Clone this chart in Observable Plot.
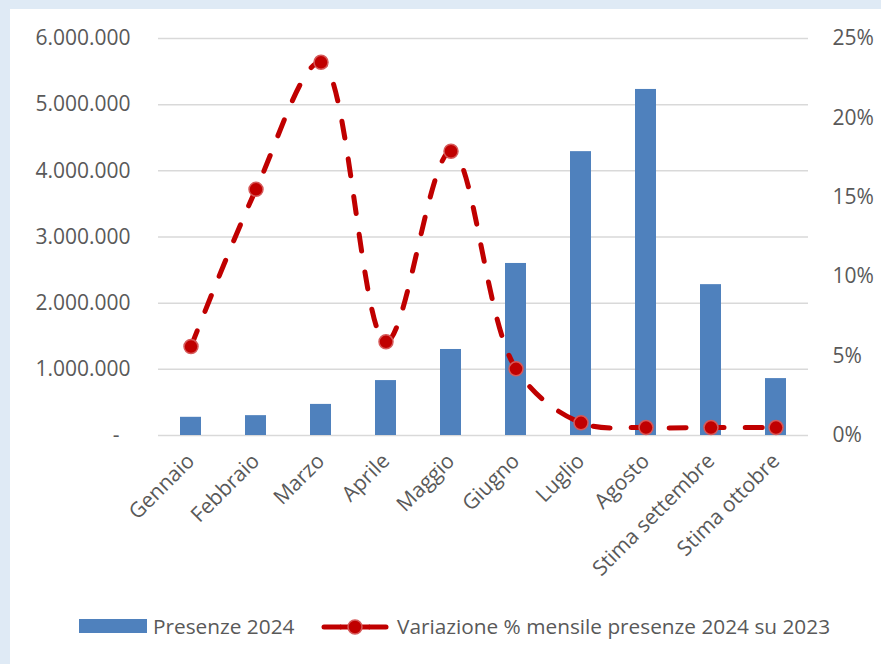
<!DOCTYPE html>
<html>
<head>
<meta charset="utf-8">
<script src="https://cdn.jsdelivr.net/npm/d3@7"></script>
<script src="https://cdn.jsdelivr.net/npm/@observablehq/plot@0.6"></script>
<style>
  html, body { margin: 0; padding: 0; width: 881px; height: 664px; overflow: hidden; background: #dfeaf5; font-family: "Open Sans", sans-serif; }
  #panel { position: absolute; left: 10px; top: 9px; width: 871px; height: 655px; background: #ffffff; }
  #chart { position: absolute; left: 0; top: 0; }
  #legend { position: absolute; left: 0; top: 0; width: 881px; height: 664px; pointer-events: none; }
  .lg-text { position: absolute; top: 612px; font-size: 20.8px; line-height: 28px; color: #595959; white-space: nowrap; }
</style>
</head>
<body>
<div id="panel"></div>
<div id="chart"></div>
<div id="legend">
  <div style="position:absolute;left:79px;top:619px;width:68px;height:14px;background:#4f81bd;"></div>
  <div class="lg-text" style="left:153px;">Presenze 2024</div>
  <svg style="position:absolute;left:318px;top:612px;" width="76" height="30">
    <line x1="6" y1="15" x2="22" y2="15" stroke="#c00000" stroke-width="5" stroke-linecap="round"/>
    <line x1="52" y1="15" x2="68" y2="15" stroke="#c00000" stroke-width="5" stroke-linecap="round"/>
    <line x1="22" y1="15" x2="52" y2="15" stroke="#c00000" stroke-width="5"/>
    <circle cx="37" cy="15" r="7" fill="#c00000" stroke="#d65a5a" stroke-width="1.5"/>
  </svg>
  <div class="lg-text" style="left:397px;">Variazione % mensile presenze 2024 su 2023</div>
</div>
<script>
const months = ["Gennaio", "Febbraio", "Marzo", "Aprile", "Maggio", "Giugno", "Luglio", "Agosto", "Stima settembre", "Stima ottobre"];
const presenze2024 = [275000, 300000, 470000, 830000, 1300000, 2600000, 4290000, 5230000, 2280000, 860000];
const variazionePct = [5.6, 15.5, 23.5, 5.9, 17.9, 4.2, 0.8, 0.5, 0.5, 0.5];
const leftTicks = [0, 1000000, 2000000, 3000000, 4000000, 5000000, 6000000];
const rightTicks = [0, 5, 10, 15, 20, 25];

const Y_MAX = 6000000, P_MAX = 25;
const toY = p => p / P_MAX * Y_MAX;

const data = months.map((m, i) => ({ mese: m, presenze: presenze2024[i], variazione: variazionePct[i] }));
const fmtIt = d => d === 0 ? "-\u00a0\u00a0" : d3.format(",")(d).replace(/,/g, ".");

const chart = Plot.plot({
  width: 881,
  height: 580,
  marginLeft: 158,
  marginRight: 73,
  marginTop: 38,
  marginBottom: 145,
  style: { fontFamily: "Open Sans, sans-serif", fontSize: "21px", background: "transparent", color: "#595959" },
  x: { type: "band", domain: months, paddingInner: 0.68, paddingOuter: 0.34 },
  y: { domain: [0, Y_MAX] },
  marks: [
    Plot.ruleY(leftTicks, { stroke: "#d9d9d9", strokeWidth: 1.5 }),
    Plot.barY(data, { x: "mese", y: "presenze", fill: "#4f81bd" }),
    Plot.line(data, { x: "mese", y: d => toY(d.variazione), stroke: "#c00000", strokeWidth: 5, strokeDasharray: "17,21", strokeLinecap: "round", curve: "catmull-rom" }),
    Plot.dot(data, { x: "mese", y: d => toY(d.variazione), r: 7, fill: "#c00000", stroke: "#d65a5a", strokeWidth: 1.5 }),
    Plot.axisY(leftTicks, { anchor: "left", tickSize: 0, tickPadding: 28, tickFormat: fmtIt, label: null, fontSize: 21, color: "#595959" }),
    Plot.axisY(rightTicks.map(toY), { anchor: "right", tickSize: 0, tickPadding: 24, tickFormat: d => Math.round(d / Y_MAX * P_MAX) + "%", label: null, fontSize: 21, color: "#595959" }),
    Plot.axisX({ tickRotate: -45, tickSize: 0, tickPadding: 22, label: null, fontSize: 21, color: "#595959" })
  ]
});
document.getElementById("chart").appendChild(chart);
</script>
</body>
</html>
